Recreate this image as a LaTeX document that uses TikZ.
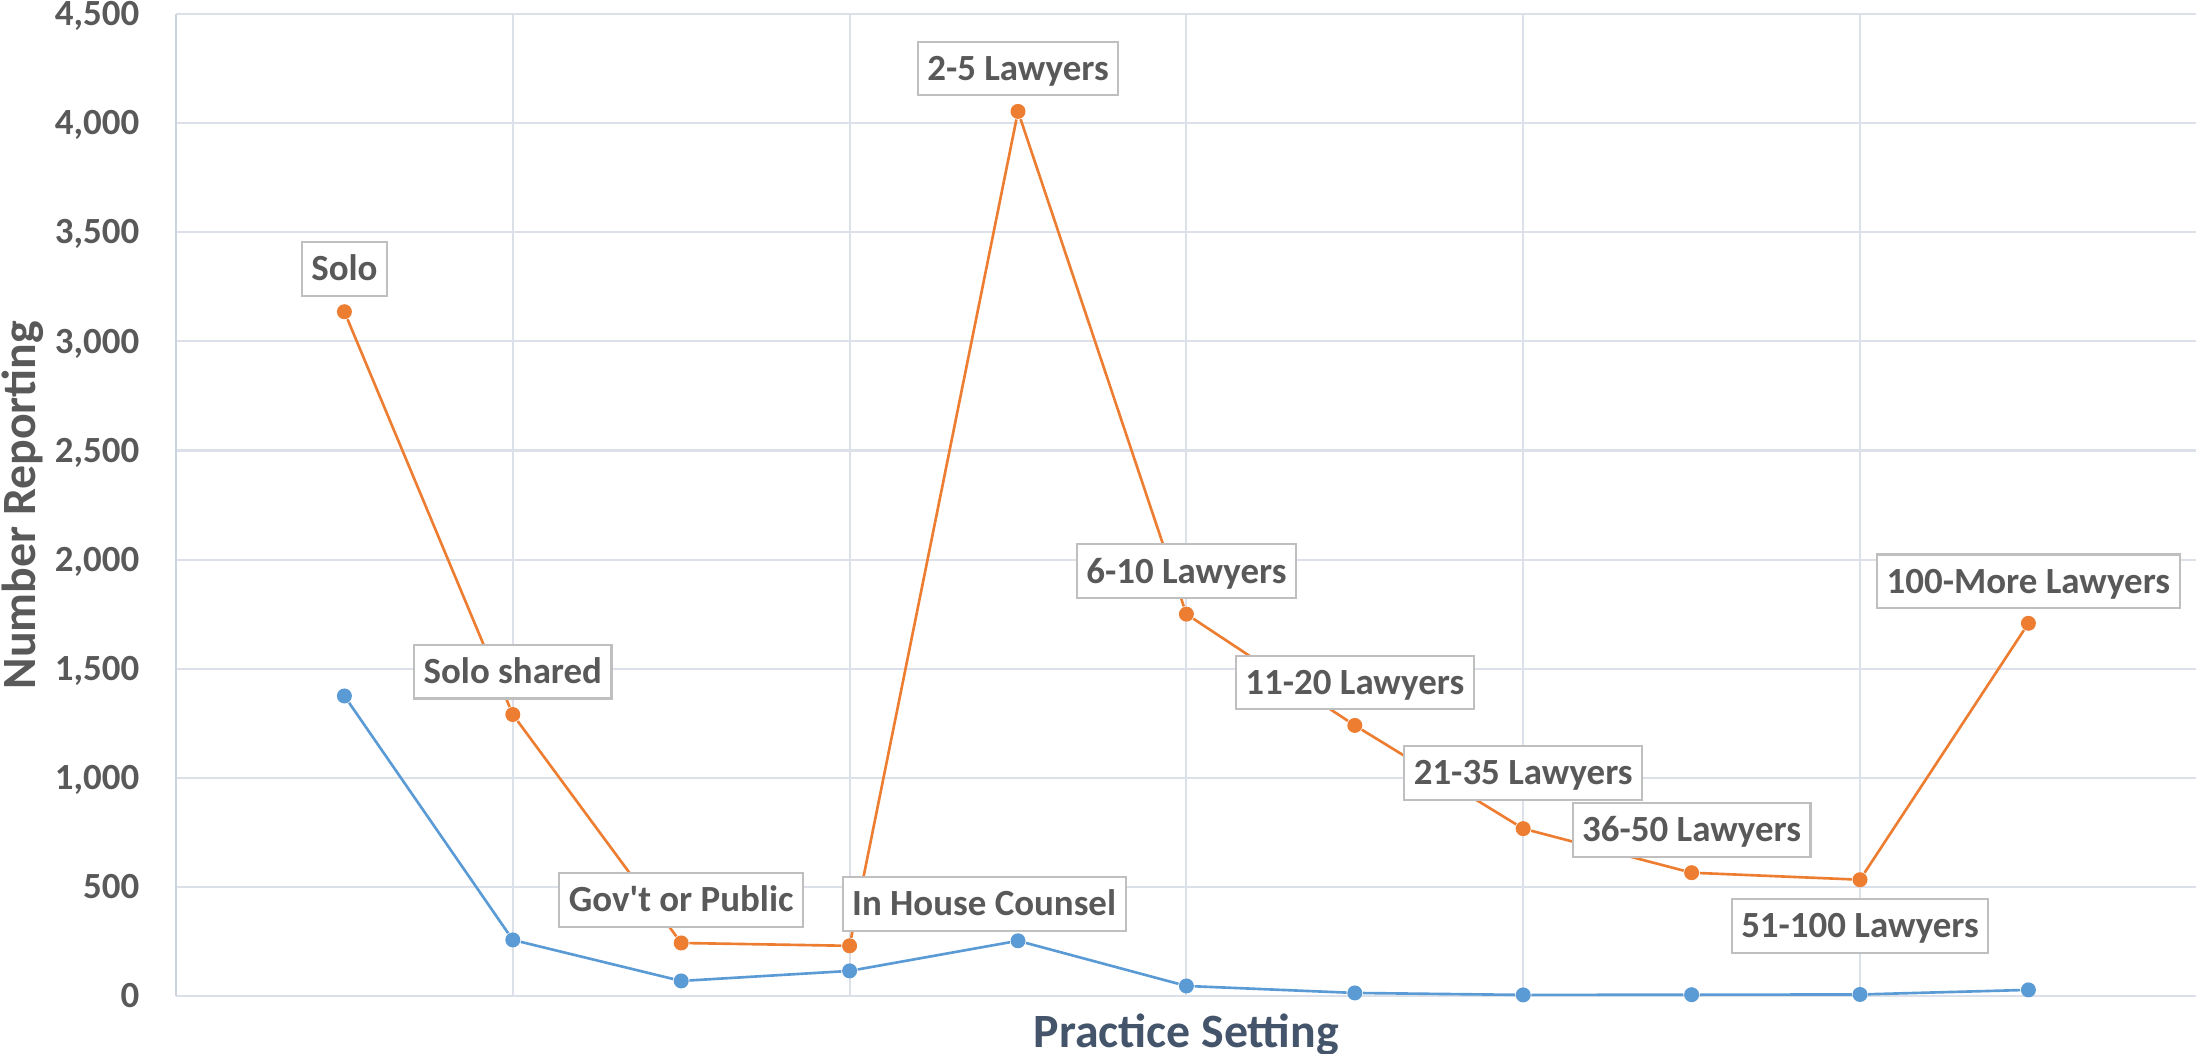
\documentclass[tikz,border=0pt]{standalone}
\usepackage{fontspec}
\setmainfont{Carlito}
\usetikzlibrary{positioning}

\definecolor{lineorange}{HTML}{ED7D31}
\definecolor{lineblue}{HTML}{5B9BD5}
\definecolor{textgray}{HTML}{595959}
\definecolor{titleblue}{HTML}{44546A}
\definecolor{gridgray}{HTML}{DCE1E9}
\definecolor{axisgray}{HTML}{CBD3DF}
\definecolor{boxgray}{HTML}{BFBFBF}

\begin{document}
\begin{tikzpicture}[
    /pgf/number format/1000 sep={,},
    /pgf/number format/assume math mode=true,
    grid line/.style={
        draw=gridgray,
        line width=0.6pt
    },
    axis line/.style={
        draw=axisgray,
        line width=0.6pt
    },
    orange point/.style={
        circle,
        fill=lineorange,
        minimum size=0.15cm,
        inner sep=0pt
    },
    blue point/.style={
        circle,
        fill=lineblue,
        minimum size=0.15cm,
        inner sep=0pt
    },
    orange line/.style={
        lineorange,
        line width=0.75pt
    },
    blue line/.style={
        lineblue,
        line width=0.75pt
    },
    tag/.style={
        draw=boxgray,
        line width=0.6pt,
        fill=white,
        text=textgray,
        font=\fontsize{10.5}{12}\selectfont\bfseries,
        inner xsep=0.095cm,
        inner ysep=0.06cm,
        text height=0.328cm,
        text depth=0.09cm
    },
    tick/.style={
        anchor=base east,
        text=textgray,
        font=\fontsize{10.5}{12}\selectfont\bfseries,
        inner sep=0pt
    },
    axis title/.style={
        font=\fontsize{13.6}{16}\selectfont\bfseries,
        inner sep=0pt
    }
]

\def\colsep{1.684}
\def\vscale{0.002178}

\useasboundingbox (-1.76,-0.57) rectangle (20.20,9.96);

%% --- Grille et graduations ---
\foreach \t in {0,500,...,4500} {
    \draw[grid line] (0,\t*\vscale) -- (20.2,\t*\vscale);
    \node[tick] (T\t) at (-0.36,\t*\vscale-0.117) {\pgfmathprintnumber{\t}};
}
\foreach \c in {2,4,...,10} {
    \draw[grid line] (\c*\colsep,0) -- (\c*\colsep,4500*\vscale);
}
\draw[axis line] (0,0) -- (0,4500*\vscale);

%% --- Points des deux séries ---
\foreach \v [count=\i] in {1375,257,69,115,253,46,14,5,6,7,28} {
    \node[blue point] (B\i) at (\i*\colsep,\v*\vscale) {};
}
\foreach \v [count=\i] in {3136,1290,243,230,4054,1750,1240,767,565,533,1708} {
    \node[orange point] (P\i) at (\i*\colsep,\v*\vscale) {};
}

%% --- Lignes ---
\foreach \i [remember=\i as \j (initially 1)] in {2,...,11} {
    \draw[blue line] (B\j) -- (B\i);
}
\foreach \i [remember=\i as \j (initially 1)] in {2,...,11} {
    \draw[orange line] (P\j) -- (P\i);
}

%% --- Étiquettes des points ---
\node[tag, above=0.15cm of P1.center]  (L1)  {Solo};
\node[tag, above=0.15cm of P2.center]  (L2)  {Solo shared};
\node[tag, above=0.15cm of P3.center]  (L3)  {Gov\textquotesingle t or Public};
\node[tag, above right=0.14cm and -0.08cm of P4.center] (L4) {In House Counsel};
\node[tag, above=0.15cm of P5.center]  (L5)  {2-5 Lawyers};
\node[tag, above=0.15cm of P6.center]  (L6)  {6-10 Lawyers};
\node[tag, above=0.15cm of P7.center]  (L7)  {11-20 Lawyers};
\node[tag, above=0.28cm of P8.center]  (L8)  {21-35 Lawyers};
\node[tag, above=0.15cm of P9.center]  (L9)  {36-50 Lawyers};
\node[tag, below=0.18cm of P10.center] (L10) {51-100 Lawyers};
\node[tag, above=0.14cm of P11.center] (L11) {100-More Lawyers};

%% --- Titres des axes ---
\node[axis title, text=textgray, rotate=90, anchor=base] (Ytitle) at (-1.40,4.91) {Number Reporting};
\node[axis title, text=titleblue, anchor=base] (Xtitle) at (6*\colsep,-0.51) {Practice Setting};

\end{tikzpicture}
\end{document}
